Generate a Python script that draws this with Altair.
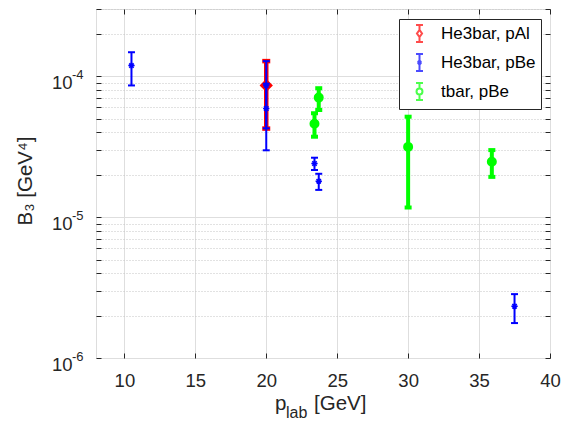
import altair as alt
import pandas as pd

# ---------------- data ----------------
series_names = ["He3bar, pAl", "He3bar, pBe", "tbar, pBe"]
series_colors = ["#ff0000", "#0000ff", "#00ff00"]

# He3bar, pAl
pal_x = [20.0]
pal_y = [8.6e-5]
pal_lo = [4.25e-5]
pal_hi = [1.28e-4]

# He3bar, pBe
pbe_x = [10.5, 20.0, 20.0, 23.4, 23.7, 37.5]
pbe_y = [1.19e-4, 8.6e-5, 5.9e-5, 2.40e-5, 1.80e-5, 2.33e-6]
pbe_lo = [8.6e-5, 4.27e-5, 2.98e-5, 2.16e-5, 1.56e-5, 1.77e-6]
pbe_hi = [1.48e-4, 1.28e-4, 8.85e-5, 2.64e-5, 2.03e-5, 2.84e-6]

# tbar, pBe
tbe_x = [23.4, 23.7, 30.0, 35.9]
tbe_y = [4.6e-5, 7.05e-5, 3.15e-5, 2.47e-5]
tbe_lo = [3.72e-5, 5.76e-5, 1.17e-5, 1.93e-5]
tbe_hi = [5.46e-5, 8.22e-5, 5.16e-5, 2.99e-5]

x_tick_values = [10, 15, 20, 25, 30, 35, 40]
y_decades = [1e-6, 1e-5, 1e-4]
y_exponents = ["-6", "-5", "-4"]
y_minor = [2e-6, 3e-6, 4e-6, 5e-6, 6e-6, 7e-6, 8e-6, 9e-6,
           2e-5, 3e-5, 4e-5, 5e-5, 6e-5, 7e-5, 8e-5, 9e-5,
           2e-4, 3e-4]

# ---------------- style ----------------
W, H = 454, 349
FONT = "Liberation Sans"
AX = "#262626"
TICK_FS = 18.5
TITLE_FS = 20.5

xs = alt.Scale(domain=[8, 40], nice=False, zero=False)
ys = alt.Scale(type="log", domain=[1e-6, 3e-4], nice=False)

major_test = "abs(log(datum.value)/LN10 - round(log(datum.value)/LN10)) < 1e-6"


def frame(x, y, lo, hi):
    return pd.DataFrame({"x": x, "y": y, "lo": lo, "hi": hi})


def err_layers(df, color, w, cap):
    base = alt.Chart(df)
    X = alt.X("x:Q", scale=xs, axis=None)
    bar = base.mark_rule(color=color, strokeWidth=w).encode(
        x=X, y=alt.Y("lo:Q", scale=ys, axis=None), y2="hi:Q")
    caps = [
        base.mark_rule(color=color, strokeWidth=w, xOffset=-cap, x2Offset=cap).encode(
            x=X, x2="x:Q", y=alt.Y(f + ":Q", scale=ys, axis=None))
        for f in ("lo", "hi")
    ]
    return [bar] + caps


def marker(df, **kw):
    return alt.Chart(df).mark_point(opacity=1, **kw).encode(
        x=alt.X("x:Q", scale=xs, axis=None), y=alt.Y("y:Q", scale=ys, axis=None))


df_al = frame(pal_x, pal_y, pal_lo, pal_hi)
df_be = frame(pbe_x, pbe_y, pbe_lo, pbe_hi)
df_t = frame(tbe_x, tbe_y, tbe_lo, tbe_hi)

ASTERISK = "M-1,0L1,0M0,-1L0,1M-0.7,-0.7L0.7,0.7M-0.7,0.7L0.7,-0.7"

layers = []
# red
layers += err_layers(df_al, series_colors[0], 4.5, 4)
layers.append(marker(df_al, shape="diamond", filled=True, color=series_colors[0],
                     stroke=series_colors[0], strokeWidth=2, size=110))
# blue
layers += err_layers(df_be, series_colors[1], 2, 3.5)
layers.append(marker(df_be, shape=ASTERISK, filled=False, color=series_colors[1],
                     strokeWidth=1.5, size=40))
# green
layers += err_layers(df_t, series_colors[2], 4, 3.5)
layers.append(marker(df_t, shape="circle", filled=True, color=series_colors[2],
                     stroke=series_colors[2], strokeWidth=2, size=64))

# ---------------- axes (dummy invisible layers) ----------------
dummy = pd.DataFrame({"x": [20.0], "y": [1e-5]})

axis_grid_labels = alt.Chart(dummy).mark_point(opacity=0).encode(
    x=alt.X("x:Q", scale=xs, axis=alt.Axis(
        orient="bottom", values=x_tick_values, grid=True, gridColor="#dedede", gridWidth=1,
        ticks=False, tickSize=0, domain=False, labelFont=FONT, labelFontSize=TICK_FS,
        labelColor=AX, labelPadding=13, labelFlush=False, labelOverlap=False, title=None)),
    y=alt.Y("y:Q", scale=ys, axis=alt.Axis(
        orient="left", values=y_decades + y_minor, grid=True,
        gridColor={"condition": {"test": major_test, "value": "#dedede"}, "value": "#c4c4c4"},
        gridDash={"condition": {"test": major_test, "value": []}, "value": [1, 2]},
        gridWidth=1, ticks=False, tickSize=0, domain=False,
        labelExpr=major_test + " ? '10' : ''", labelFont=FONT, labelFontSize=TICK_FS,
        labelColor=AX, labelPadding=24, labelBaseline="middle", labelOffset=6,
        labelOverlap=False, labelFlush=False, title=None)),
)


def tick_layer(xorient, yorient):
    return alt.Chart(dummy).mark_point(opacity=0).encode(
        x=alt.X("x:Q", scale=xs, axis=alt.Axis(
            orient=xorient, values=x_tick_values, offset=-5, tickSize=5, ticks=True,
            tickColor=AX, tickWidth=1, labels=False, domain=False, grid=False, title=None)),
        y=alt.Y("y:Q", scale=ys, axis=alt.Axis(
            orient=yorient, values=y_decades + y_minor, offset=-5, tickSize=5, ticks=True,
            tickColor=AX, tickWidth=1, labels=False, domain=False, grid=False, title=None)),
    )


# ---------------- legend layer (draws nothing itself) ----------------
LEG_AL = "M0,-1L0,-0.42M0,0.42L0,1M-0.41,-1L0.41,-1M-0.41,1L0.41,1M0,-0.42L0.3,0L0,0.42L-0.3,0Z"
LEG_BE = "M0,-1L0,1M-0.41,-1L0.41,-1M-0.41,1L0.41,1M-0.25,0L0.25,0M-0.2,-0.2L0.2,0.2M-0.2,0.2L0.2,-0.2"
LEG_T = "M0,-1L0,-0.35M0,0.35L0,1M-0.41,-1L0.41,-1M-0.41,1L0.41,1M0.35,0A0.35,0.35,0,1,1,-0.35,0A0.35,0.35,0,1,1,0.35,0Z"

legend_df = pd.DataFrame({"series": series_names})
legend_layer = alt.Chart(legend_df).mark_point(filled=False, strokeWidth=2, size=289).encode(
    color=alt.Color("series:N", scale=alt.Scale(domain=series_names, range=series_colors),
                    legend=alt.Legend(
                        title=None, orient="none", legendX=303, legendY=10,
                        fillColor="white", strokeColor=AX, padding=5, cornerRadius=0,
                        symbolOffset=6, labelOffset=12, rowPadding=4,
                        labelFont=FONT, labelFontSize=17, labelColor="#000000",
                        symbolStrokeWidth=2, symbolSize=289, labelLimit=300)),
    shape=alt.Shape("series:N", scale=alt.Scale(domain=series_names,
                                                 range=[LEG_AL, LEG_BE, LEG_T])),
).transform_filter("false")

# ---------------- text: exponents and titles ----------------
exp_df = pd.DataFrame({"v": y_decades, "t": y_exponents})
exp_layer = alt.Chart(exp_df).mark_text(
    align="left", baseline="alphabetic", dx=-24, dy=3, fontSize=13, font=FONT, color=AX
).encode(x=alt.value(0), y=alt.Y("v:Q", scale=ys, axis=None), text="t:N")

ytitle = alt.Chart(dummy).mark_text(
    text="B\u2083 [GeV\u2074]", angle=270, align="center", baseline="middle",
    fontSize=TITLE_FS, font=FONT, color=AX
).encode(x=alt.value(-70), y=alt.value(172))

xt_p = alt.Chart(dummy).mark_text(
    text="p", align="left", baseline="alphabetic", fontSize=TITLE_FS, font=FONT, color=AX
).encode(x=alt.value(W / 2 - 48), y=alt.value(H + 52))
xt_lab = alt.Chart(dummy).mark_text(
    text="lab", align="left", baseline="alphabetic", fontSize=16, font=FONT, color=AX
).encode(x=alt.value(W / 2 - 37), y=alt.value(H + 60))
xt_gev = alt.Chart(dummy).mark_text(
    text="[GeV]", align="left", baseline="alphabetic", fontSize=TITLE_FS, font=FONT, color=AX
).encode(x=alt.value(W / 2 - 9), y=alt.value(H + 52))

chart = alt.layer(
    axis_grid_labels,
    *layers,
    tick_layer("bottom", "left"),
    tick_layer("top", "right"),
    legend_layer,
    exp_layer, ytitle, xt_p, xt_lab, xt_gev,
).resolve_axis(x="independent", y="independent").properties(
    width=W, height=H,
    autosize=alt.AutoSizeParams(type="none"),
    padding={"left": 96, "top": 9, "right": 24, "bottom": 63},
    background="white",
).configure_view(stroke=AX, strokeWidth=1).configure(font=FONT)

chart.save("out.html", embed_options={"renderer": "svg", "actions": False})
